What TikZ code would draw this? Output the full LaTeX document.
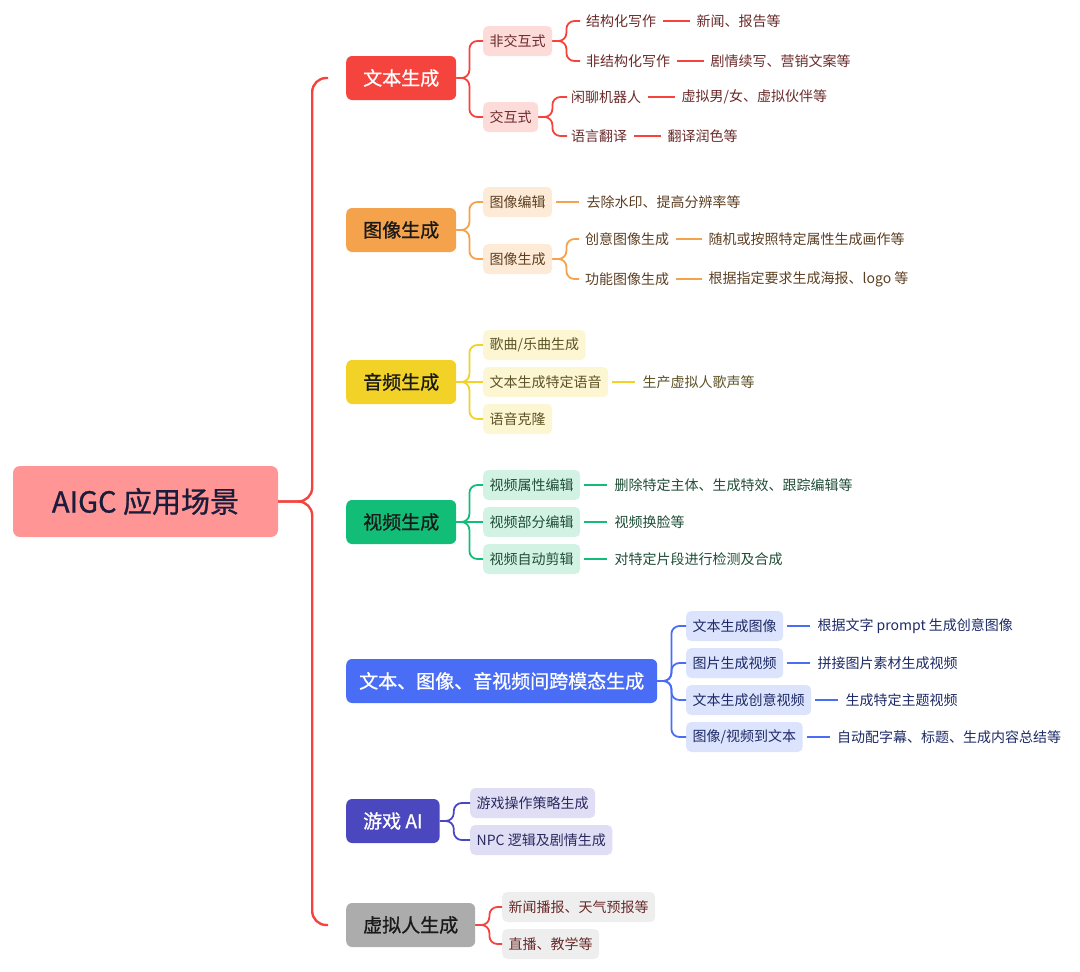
\documentclass[tikz,border=0pt]{standalone}
\usepackage{fontspec}
\setmainfont{Noto Sans CJK SC}
\newfontfamily\heavyfont{Noto Sans CJK SC}[FakeBold=0.9]
\usetikzlibrary{positioning}

% branch colours
\definecolor{rootpink}{HTML}{FF9595}
\definecolor{roottext}{HTML}{1A1C3C}
\definecolor{wbred}{HTML}{F4443D}
\definecolor{wbpink}{HTML}{FDDBD9}
\definecolor{wbtext}{HTML}{6B2A2A}
\definecolor{txorange}{HTML}{F5A24C}
\definecolor{txpeach}{HTML}{FDEBD8}
\definecolor{txtext}{HTML}{5C3F22}
\definecolor{ypyellow}{HTML}{F2D227}
\definecolor{ypcream}{HTML}{FDF6D2}
\definecolor{yptext}{HTML}{5C5226}
\definecolor{spgreen}{HTML}{12BE77}
\definecolor{spmint}{HTML}{D2F2E4}
\definecolor{sptext}{HTML}{1F4D37}
\definecolor{kmblue}{HTML}{4A6DF6}
\definecolor{kmpale}{HTML}{DCE3FC}
\definecolor{kmtext}{HTML}{1D2A66}
\definecolor{yxindigo}{HTML}{4B47BE}
\definecolor{yxlav}{HTML}{E0DEF5}
\definecolor{yxtext}{HTML}{2A295E}
\definecolor{xngray}{HTML}{ACACAC}
\definecolor{xnlight}{HTML}{EEEEEE}
\definecolor{darkink}{HTML}{1A1A1A}

\tikzset{
  root/.style={fill=rootpink, text=roottext, rounded corners=7pt, minimum width=265pt,
    minimum height=71pt, font=\heavyfont\fontsize{29}{34}\selectfont},
  topic/.style={anchor=west, rounded corners=6pt, minimum height=44pt, inner xsep=17pt,
    inner ysep=0pt, font=\heavyfont\fontsize{19}{22}\selectfont},
  sub/.style={anchor=west, rounded corners=5pt, minimum height=30pt, inner xsep=6.5pt,
    inner ysep=0pt, font=\fontsize{14}{16}\selectfont},
  leaf/.style={anchor=west, inner sep=0pt, font=\fontsize{14}{16}\selectfont},
  trunk/.style={draw=wbred, line width=2.4pt, rounded corners=14pt, shorten >=18pt},
  link/.style={line width=1.8pt, rounded corners=8pt},
  keytie/.style={line width=1.8pt, shorten <=7pt, shorten >=6pt},
  boxtie/.style={line width=1.8pt, shorten <=4pt, shorten >=7pt}
}

\begin{document}
\begin{tikzpicture}[x=1pt, y=-1pt]
  \useasboundingbox (0,0) rectangle (1080,972);
  % root and first level
  \node[root] (aigc) at (145.5,501.5) {AIGC 应用场景};
  \node[topic, fill=wbred, text=white] (wb) at (346,78) {文本生成};
  \node[topic, fill=txorange, text=darkink] (tx) at (346,230) {图像生成};
  \node[topic, fill=ypyellow, text=darkink] (yp) at (346,382) {音频生成};
  \node[topic, fill=spgreen, text=darkink] (sp) at (346,522) {视频生成};
  \node[topic, fill=kmblue, text=white, inner xsep=13pt] (km) at (346,681) {文本、图像、音视频间跨模态生成};
  \node[topic, fill=yxindigo, text=white] (yx) at (346,821) {游戏 AI};
  \node[topic, fill=xngray, text=darkink] (xn) at (346,925) {虚拟人生成};
  % the brace from the root
  \draw[trunk] (aigc.east) -- ++(34,0) |- (wb.west);
  \draw[trunk] (aigc.east) -- ++(34,0) |- (xn.west);

  % text generation
  \begin{scope}[link/.append style={draw=wbred}, keytie/.append style={draw=wbred},
      sub/.append style={fill=wbpink, text=wbtext}, leaf/.append style={text=wbtext}]
    \node[sub] (wb1) at (483,41) {非交互式};
    \node[sub] (wb2) at (483,117) {交互式};
    \node[leaf] (wb11) at (586,21) {结构化写作};
    \node[leaf, right=40pt of wb11] (wb11v) {新闻、报告等};
    \node[leaf] (wb12) at (586,61) {非结构化写作};
    \node[leaf, right=40pt of wb12] (wb12v) {剧情续写、营销文案等};
    \node[leaf] (wb21) at (571,97) {闲聊机器人};
    \node[leaf, right=40pt of wb21] (wb21v) {虚拟男/女、虚拟伙伴等};
    \node[leaf] (wb22) at (571,136) {语言翻译};
    \node[leaf, right=40pt of wb22] (wb22v) {翻译润色等};
    \draw[link] (wb.east) -- ++(13,0) |- (wb1.west);
    \draw[link] (wb.east) -- ++(13,0) |- (wb2.west);
    \draw[link, shorten >=6pt] (wb1.east) -- ++(14,0) |- (wb11.west);
    \draw[link, shorten >=6pt] (wb1.east) -- ++(14,0) |- (wb12.west);
    \draw[link, shorten >=4pt] (wb2.east) -- ++(14,0) |- (wb21.west);
    \draw[link, shorten >=4pt] (wb2.east) -- ++(14,0) |- (wb22.west);
    \draw[keytie] (wb11.east) -- (wb11v.west);
    \draw[keytie] (wb12.east) -- (wb12v.west);
    \draw[keytie] (wb21.east) -- (wb21v.west);
    \draw[keytie] (wb22.east) -- (wb22v.west);
  \end{scope}

  % image generation
  \begin{scope}[link/.append style={draw=txorange}, keytie/.append style={draw=txorange},
      boxtie/.append style={draw=txorange},
      sub/.append style={fill=txpeach, text=txtext}, leaf/.append style={text=txtext}]
    \node[sub] (tx1) at (483,202) {图像编辑};
    \node[leaf, right=34pt of tx1] (tx1v) {去除水印、提高分辨率等};
    \node[sub] (tx2) at (483,259) {图像生成};
    \node[leaf] (tx21) at (585,239) {创意图像生成};
    \node[leaf, right=39pt of tx21] (tx21v) {随机或按照特定属性生成画作等};
    \node[leaf] (tx22) at (585,279) {功能图像生成};
    \node[leaf, right=39pt of tx22] (tx22v) {根据指定要求生成海报、logo 等};
    \draw[link] (tx.east) -- ++(13,0) |- (tx1.west);
    \draw[link] (tx.east) -- ++(13,0) |- (tx2.west);
    \draw[link, shorten >=6pt] (tx2.east) -- ++(14,0) |- (tx21.west);
    \draw[link, shorten >=6pt] (tx2.east) -- ++(14,0) |- (tx22.west);
    \draw[boxtie] (tx1.east) -- (tx1v.west);
    \draw[keytie] (tx21.east) -- (tx21v.west);
    \draw[keytie] (tx22.east) -- (tx22v.west);
  \end{scope}

  % audio generation
  \begin{scope}[link/.append style={draw=ypyellow}, boxtie/.append style={draw=ypyellow},
      sub/.append style={fill=ypcream, text=yptext}, leaf/.append style={text=yptext}]
    \node[sub] (yp1) at (483,345) {歌曲/乐曲生成};
    \node[sub] (yp2) at (483,382) {文本生成特定语音};
    \node[leaf, right=34pt of yp2] (yp2v) {生产虚拟人歌声等};
    \node[sub] (yp3) at (483,419) {语音克隆};
    \draw[link] (yp.east) -- ++(13,0) |- (yp1.west);
    \draw[link] (yp.east) -- (yp2.west);
    \draw[link] (yp.east) -- ++(13,0) |- (yp3.west);
    \draw[boxtie] (yp2.east) -- (yp2v.west);
  \end{scope}

  % video generation
  \begin{scope}[link/.append style={draw=spgreen}, boxtie/.append style={draw=spgreen},
      sub/.append style={fill=spmint, text=sptext}, leaf/.append style={text=sptext}]
    \node[sub] (sp1) at (483,485) {视频属性编辑};
    \node[leaf, right=34pt of sp1] (sp1v) {删除特定主体、生成特效、跟踪编辑等};
    \node[sub] (sp2) at (483,522) {视频部分编辑};
    \node[leaf, right=34pt of sp2] (sp2v) {视频换脸等};
    \node[sub] (sp3) at (483,559) {视频自动剪辑};
    \node[leaf, right=34pt of sp3] (sp3v) {对特定片段进行检测及合成};
    \draw[link] (sp.east) -- ++(13,0) |- (sp1.west);
    \draw[link] (sp.east) -- (sp2.west);
    \draw[link] (sp.east) -- ++(13,0) |- (sp3.west);
    \foreach \i in {1,2,3}
      \draw[boxtie] (sp\i.east) -- (sp\i v.west);
  \end{scope}

  % cross-modal generation
  \begin{scope}[link/.append style={draw=kmblue}, boxtie/.append style={draw=kmblue},
      sub/.append style={fill=kmpale, text=kmtext}, leaf/.append style={text=kmtext}]
    \node[sub] (km1) at (686,626) {文本生成图像};
    \node[leaf, right=34pt of km1] (km1v) {根据文字 prompt 生成创意图像};
    \node[sub] (km2) at (686,663) {图片生成视频};
    \node[leaf, right=34pt of km2] (km2v) {拼接图片素材生成视频};
    \node[sub] (km3) at (686,700) {文本生成创意视频};
    \node[leaf, right=34pt of km3] (km3v) {生成特定主题视频};
    \node[sub] (km4) at (686,737) {图像/视频到文本};
    \node[leaf, right=34pt of km4] (km4v) {自动配字幕、标题、生成内容总结等};
    \foreach \i in {1,...,4}{
      \draw[link] (km.east) -- ++(14,0) |- (km\i.west);
      \draw[boxtie] (km\i.east) -- (km\i v.west);
    }
  \end{scope}

  % game AI
  \begin{scope}[link/.append style={draw=yxindigo},
      sub/.append style={fill=yxlav, text=yxtext}]
    \node[sub] (yx1) at (470,803) {游戏操作策略生成};
    \node[sub] (yx2) at (470,840) {NPC 逻辑及剧情生成};
    \draw[link] (yx.east) -- ++(14,0) |- (yx1.west);
    \draw[link] (yx.east) -- ++(14,0) |- (yx2.west);
  \end{scope}

  % virtual humans
  \begin{scope}[link/.append style={draw=wbred},
      sub/.append style={fill=xnlight, text=wbtext}]
    \node[sub] (xn1) at (502,907) {新闻播报、天气预报等};
    \node[sub] (xn2) at (502,944) {直播、教学等};
    \draw[link] (xn.east) -- ++(14,0) |- (xn1.west);
    \draw[link] (xn.east) -- ++(14,0) |- (xn2.west);
  \end{scope}
\end{tikzpicture}
\end{document}
